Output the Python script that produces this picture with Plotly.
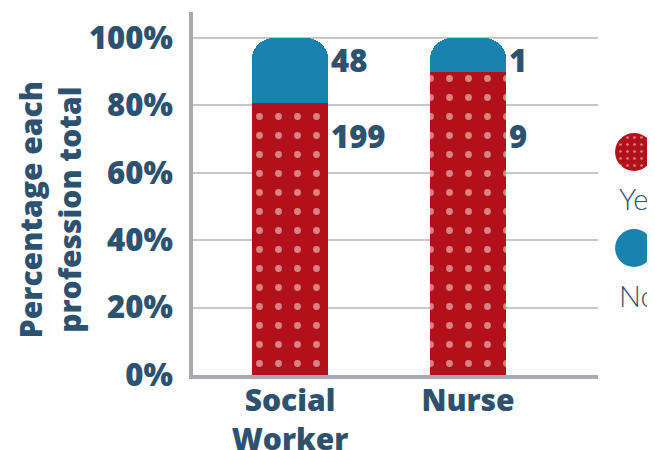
import plotly.graph_objects as go

# ---- data ----
professions = ["Social Worker", "Nurse"]
tick_labels = ["Social<br>Worker", "Nurse"]
yes_counts = [199, 9]
no_counts = [48, 1]
y_ticks = [0, 20, 40, 60, 80, 100]
y_tick_labels = ["0%", "20%", "40%", "60%", "80%", "100%"]
legend_names = ["Yes", "No"]

totals = [y + n for y, n in zip(yes_counts, no_counts)]
yes_pct = [100 * y / t for y, t in zip(yes_counts, totals)]
no_pct = [100 * n / t for n, t in zip(no_counts, totals)]

# ---- style ----
RED = "#B2111B"
DOT = "#FFF6E8"
BLUE = "#1A82AF"
TEXT = "#2C5270"
AXIS = "#AAAAAE"
GRID = "#C8C8C8"
FONT = "Open Sans"
BAR_W = 0.43
LABEL_Y = {"Yes": 71, "No": 93.5}
BOLD = dict(family=FONT, size=30, color=TEXT, weight=800)
BOLD_Y = dict(family=FONT, size=31, color=TEXT, weight=800)

fig = go.Figure()
xs = list(range(len(professions)))

fig.add_trace(go.Bar(
    x=xs, y=yes_pct, width=BAR_W, name=legend_names[0],
    marker=dict(color=RED, line=dict(width=0),
                pattern=dict(shape=".", fgcolor=DOT, bgcolor=RED,
                             size=19, solidity=0.1, fillmode="overlay")),
    hoverinfo="skip", showlegend=False,
))
fig.add_trace(go.Bar(
    x=xs, y=no_pct, width=BAR_W, name=legend_names[1],
    marker=dict(color=BLUE, line=dict(width=0), cornerradius=22),
    hoverinfo="skip", showlegend=False,
))

# value labels
for i in xs:
    for name, counts in (("Yes", yes_counts), ("No", no_counts)):
        fig.add_annotation(
            x=i + BAR_W / 2, y=LABEL_Y[name], xref="x", yref="y",
            text=str(counts[i]), showarrow=False, xanchor="left", yanchor="middle",
            xshift=1, font=BOLD_Y,
        )

# legend built from pies (patterned circles) + text
leg_x = [0.898, 0.9787]
leg_y = {"Yes": [0.562, 0.667], "No": [0.2975, 0.402]}
fig.add_trace(go.Pie(
    values=[1], labels=[legend_names[0]], domain=dict(x=leg_x, y=leg_y["Yes"]),
    marker=dict(colors=[RED], line=dict(width=0),
                pattern=dict(shape=".", fgcolor=DOT, bgcolor=RED, size=7,
                             solidity=0.12, fillmode="overlay")),
    textinfo="none", hoverinfo="skip", showlegend=False, sort=False,
))
fig.add_trace(go.Pie(
    values=[1], labels=[legend_names[1]], domain=dict(x=leg_x, y=leg_y["No"]),
    marker=dict(colors=[BLUE], line=dict(width=0)),
    textinfo="none", hoverinfo="skip", showlegend=False, sort=False,
))
for name, yy in zip(legend_names, (0.485, 0.22)):
    fig.add_annotation(
        x=0.902, y=yy, xref="paper", yref="paper", text=name, showarrow=False,
        xanchor="left", yanchor="middle",
        font=dict(family="Lato", size=29, color=TEXT, weight=300),
    )

# y-axis title
fig.add_annotation(
    x=-0.304, y=0.4545, xref="paper", yref="paper",
    text="Percentage each<br>profession total", textangle=-90, showarrow=False,
    xanchor="center", yanchor="middle",
    font=BOLD,
)

fig.update_layout(
    width=655, height=450,
    margin=dict(l=185, r=0, t=4, b=83, autoexpand=False),
    paper_bgcolor="white", plot_bgcolor="white",
    barmode="stack",
    font=dict(family=FONT, color=TEXT),
    xaxis=dict(
        domain=[0, 0.8617], range=[-0.545, 1.73],
        tickvals=xs, ticktext=tick_labels, automargin=False,
        showline=True, linecolor=AXIS, linewidth=4,
        showgrid=False, zeroline=False, ticks="",
        tickfont=BOLD, ticklabelstandoff=-4,
    ),
    yaxis=dict(
        range=[0, 107.7], tickvals=y_ticks, ticktext=y_tick_labels, automargin=False,
        showline=True, linecolor=AXIS, linewidth=4,
        showgrid=True, gridcolor=GRID, gridwidth=1.5,
        zeroline=False, ticks="",
        tickfont=BOLD_Y, ticklabelstandoff=10,
    ),
)

fig.write_html("out.html")
